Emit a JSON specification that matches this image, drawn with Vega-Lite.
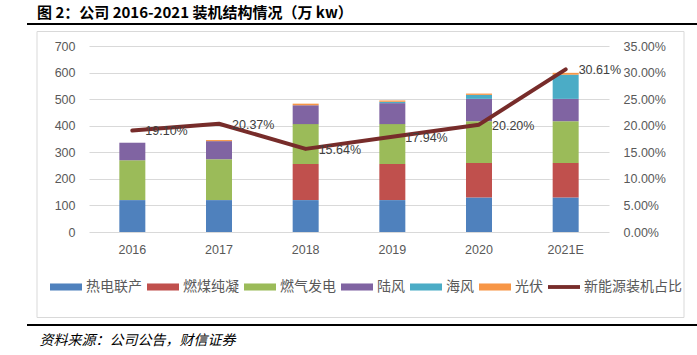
{
  "$schema": "https://vega.github.io/schema/vega-lite/v6.json",
  "width": 520,
  "height": 186,
  "autosize": "none",
  "padding": {"left": 89, "top": 46, "right": 88, "bottom": 123},
  "background": "white",
  "config": {
    "view": {"stroke": null},
    "font": "Liberation Sans",
    "axis": {"labelFont": "Liberation Sans", "labelFontSize": 12.5, "labelColor": "#595959", "ticks": false, "tickSize": 0, "domain": false}
  },
  "title": {
    "text": "图 2：公司 2016-2021 装机结构情况（万 kw）",
    "anchor": "start",
    "frame": "group",
    "dx": -52,
    "offset": 2,
    "font": "Noto Sans CJK SC",
    "fontSize": 15,
    "fontWeight": "bold",
    "color": "#000000"
  },
  "datasets": {
    "bars": [
      {"year": "2016", "type": "热电联产", "order": 1, "value": 120},
      {"year": "2016", "type": "燃气发电", "order": 3, "value": 150},
      {"year": "2016", "type": "陆风", "order": 4, "value": 66},
      {"year": "2017", "type": "热电联产", "order": 1, "value": 120},
      {"year": "2017", "type": "燃气发电", "order": 3, "value": 154},
      {"year": "2017", "type": "陆风", "order": 4, "value": 68},
      {"year": "2017", "type": "光伏", "order": 6, "value": 4},
      {"year": "2018", "type": "热电联产", "order": 1, "value": 120},
      {"year": "2018", "type": "燃煤纯凝", "order": 2, "value": 136},
      {"year": "2018", "type": "燃气发电", "order": 3, "value": 150},
      {"year": "2018", "type": "陆风", "order": 4, "value": 71},
      {"year": "2018", "type": "光伏", "order": 6, "value": 6},
      {"year": "2019", "type": "热电联产", "order": 1, "value": 120},
      {"year": "2019", "type": "燃煤纯凝", "order": 2, "value": 136},
      {"year": "2019", "type": "燃气发电", "order": 3, "value": 150},
      {"year": "2019", "type": "陆风", "order": 4, "value": 79},
      {"year": "2019", "type": "海风", "order": 5, "value": 5},
      {"year": "2019", "type": "光伏", "order": 6, "value": 5},
      {"year": "2020", "type": "热电联产", "order": 1, "value": 130},
      {"year": "2020", "type": "燃煤纯凝", "order": 2, "value": 130},
      {"year": "2020", "type": "燃气发电", "order": 3, "value": 157},
      {"year": "2020", "type": "陆风", "order": 4, "value": 84},
      {"year": "2020", "type": "海风", "order": 5, "value": 15},
      {"year": "2020", "type": "光伏", "order": 6, "value": 5},
      {"year": "2021E", "type": "热电联产", "order": 1, "value": 130},
      {"year": "2021E", "type": "燃煤纯凝", "order": 2, "value": 130},
      {"year": "2021E", "type": "燃气发电", "order": 3, "value": 157},
      {"year": "2021E", "type": "陆风", "order": 4, "value": 84},
      {"year": "2021E", "type": "海风", "order": 5, "value": 91},
      {"year": "2021E", "type": "光伏", "order": 6, "value": 7}
    ],
    "ratio": [
      {"year": "2016", "ratio": 0.1910},
      {"year": "2017", "ratio": 0.2037},
      {"year": "2018", "ratio": 0.1564},
      {"year": "2019", "ratio": 0.1794},
      {"year": "2020", "ratio": 0.2020},
      {"year": "2021E", "ratio": 0.3061}
    ]
  },
  "layer": [
    {
      "data": {"values": [{}]},
      "mark": {"type": "rect", "fill": "transparent", "stroke": "#D9D9D9", "strokeWidth": 1},
      "encoding": {"x": {"value": -52}, "x2": {"value": 595}, "y": {"value": -14.5}, "y2": {"value": 271.5}}
    },
    {
      "data": {"values": [{}]},
      "mark": {"type": "rule", "color": "#000000", "strokeWidth": 2},
      "encoding": {"x": {"value": -62}, "x2": {"value": 608}, "y": {"value": -22}}
    },
    {
      "data": {"values": [{}]},
      "mark": {"type": "rule", "color": "#000000", "strokeWidth": 2},
      "encoding": {"x": {"value": -62}, "x2": {"value": 608}, "y": {"value": 279}}
    },
    {
      "data": {"name": "bars"},
      "mark": {"type": "bar"},
      "encoding": {
        "x": {
          "field": "year", "type": "ordinal", "sort": null,
          "scale": {"paddingInner": 0.7, "paddingOuter": 0.35},
          "axis": {
            "labelAngle": 0, "labelPadding": 11, "grid": false,
            "title": "资料来源：公司公告，财信证券",
            "titleX": -50, "titleY": 108, "titleAlign": "left", "titleAnchor": "start", "titleBaseline": "middle",
            "titleFont": "Noto Sans CJK SC", "titleFontSize": 14, "titleFontStyle": "italic", "titleFontWeight": "normal", "titleColor": "#000000"
          }
        },
        "y": {
          "field": "value", "type": "quantitative", "stack": "zero",
          "scale": {"domain": [0, 700]},
          "axis": {"values": [0, 100, 200, 300, 400, 500, 600, 700], "title": null, "labelPadding": 14, "grid": true, "gridColor": "#D9D9D9", "gridWidth": 1}
        },
        "order": {"field": "order", "type": "quantitative"},
        "color": {
          "field": "type", "type": "nominal",
          "scale": {
            "domain": ["热电联产", "燃煤纯凝", "燃气发电", "陆风", "海风", "光伏", "新能源装机占比"],
            "range": ["#4F81BD", "#C0504D", "#9BBB59", "#8064A2", "#4BACC6", "#F79646", "#772C2A"]
          },
          "legend": {
            "orient": "none", "legendX": -39, "legendY": 225, "direction": "horizontal",
            "title": null,
            "labelFont": "Noto Sans CJK SC", "labelFontSize": 14, "labelColor": "#595959",
            "symbolType": "M-1,-0.22H1V0.22H-1Z", "symbolSize": 1024, "symbolStrokeWidth": 0,
            "labelOffset": 4, "columnPadding": 5,
            "encode": {
              "symbols": {
                "update": {
                  "shape": {"signal": "datum.value === '新能源装机占比' ? 'M-1,-0.12H1V0.12H-1Z' : 'M-1,-0.22H1V0.22H-1Z'"},
                  "fill": {"scale": "color", "field": "value"},
                  "stroke": {"value": "transparent"},
                  "opacity": {"value": 1}
                }
              }
            }
          }
        }
      }
    },
    {
      "data": {"name": "ratio"},
      "encoding": {
        "x": {"field": "year", "type": "ordinal", "sort": null},
        "y": {
          "field": "ratio", "type": "quantitative",
          "scale": {"domain": [0, 0.35]},
          "axis": {"orient": "right", "format": ".2%", "values": [0, 0.05, 0.1, 0.15, 0.2, 0.25, 0.3, 0.35], "title": null, "labelPadding": 14, "grid": false}
        }
      },
      "layer": [
        {
          "mark": {"type": "line", "strokeWidth": 4, "strokeCap": "round", "strokeJoin": "round"},
          "encoding": {"color": {"datum": "新能源装机占比"}}
        },
        {
          "mark": {"type": "text", "align": "left", "baseline": "middle", "dx": 13, "dy": 1, "fontSize": 12.5, "color": "#404040", "font": "Liberation Sans"},
          "encoding": {"text": {"field": "ratio", "type": "quantitative", "format": ".2%"}}
        }
      ]
    }
  ],
  "resolve": {"scale": {"y": "independent"}}
}
